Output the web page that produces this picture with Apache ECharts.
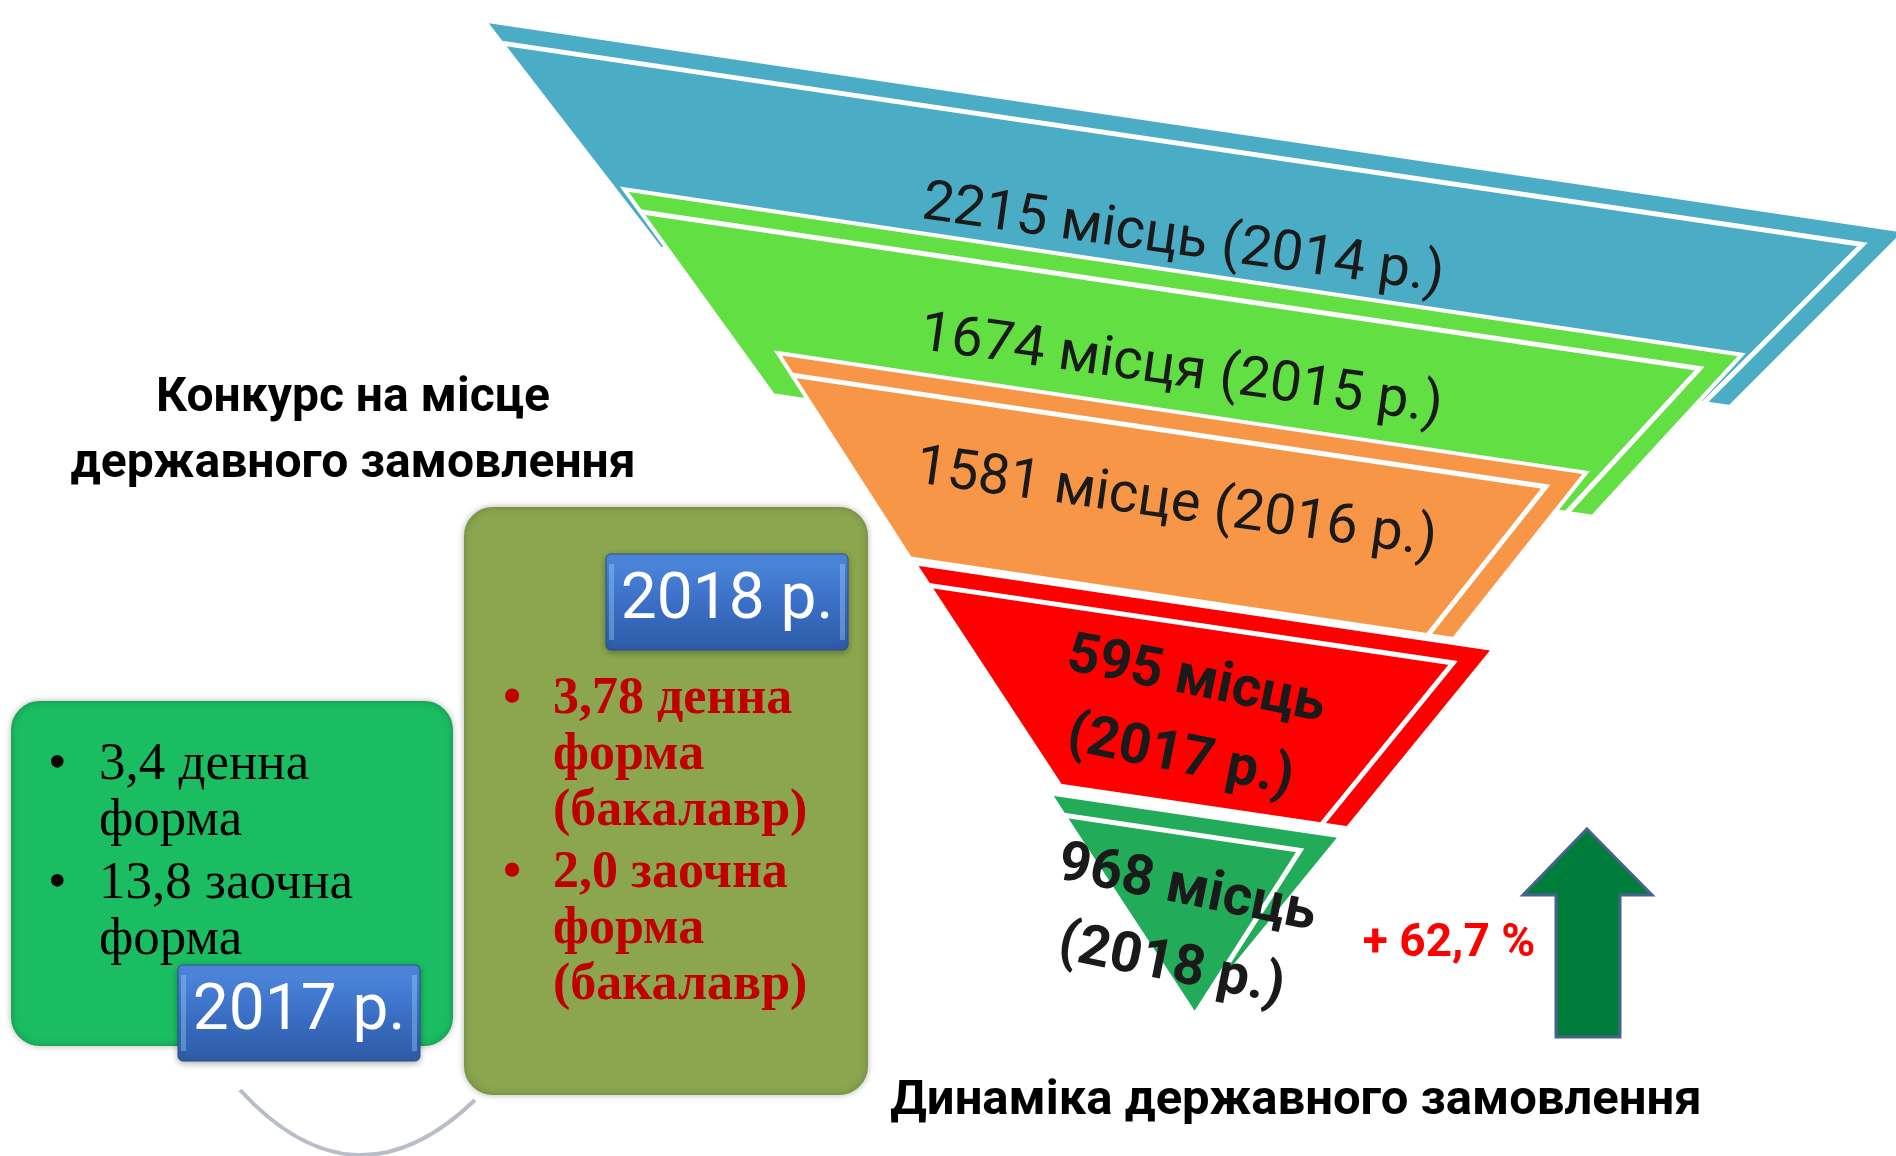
<!DOCTYPE html>
<html>
<head>
<meta charset="utf-8">
<title>Динаміка державного замовлення</title>
<script src="https://cdn.jsdelivr.net/npm/echarts@6/dist/echarts.min.js"></script>
<style>
  html, body { margin: 0; padding: 0; background: #fff; }
  #chart { width: 1896px; height: 1156px; }
</style>
</head>
<body>
<div id="chart"></div>
<script>
// state-funded places, one funnel layer per year (top to bottom)
var years = ['2014', '2015', '2016', '2017', '2018']
var places = [2215, 1674, 1581, 595, 968]
var placeWords = ['місць', 'місця', 'місце', 'місць', 'місць']

// applicants per place
var contestYears = ['2017 р.', '2018 р.']
var formNames = ['денна', 'заочна']
var contest2017 = ['3,4', '13,8']
var contest2018 = ['3,78', '2,0']

var layerColors = ['#4bacc6', '#62df42', '#f79646', '#ff0000', '#22ab58']
// layer top / bottom, measured up from the funnel tip
var layerDepth = [[889, 687], [741, 557], [600, 414], [410, 209], [200, 0]]
var layerScale = [1.04, 1.0, 0.91, 0.98, 1.04]
var layerShift = [5, -7, -8, 14, 5]
var labelPos = [[-7, 772], [-9, 641], [-14, 507], [-2, 294], [-11, 84]]
var labelRot = [-0.14, -0.14, -0.14, -0.2, -0.2]
var SKEW = 0.148

var growth = ((places[4] / places[3] - 1) * 100).toFixed(1).replace('.', ',')

function halfWidth(d) {
  return 0.68 * d + 0.0001 * d * d
}

function renderLayer(params, api) {
  var i = api.value(0)
  var origin = api.coord([0, 0])
  function pt(x, d) {
    var p = api.coord([x, d])
    return [p[0], p[1] + SKEW * (p[0] - origin[0])]
  }
  var top = layerDepth[i][0]
  var bot = layerDepth[i][1]
  var k = layerScale[i]
  var c = layerShift[i]
  var wTop = halfWidth(top) * k
  var wBot = halfWidth(bot) * k
  function edge(d) {
    return wBot + (wTop - wBot) * (d - bot) / (top - bot)
  }
  var lip = top - 20
  var side = 26
  var rim = [pt(c - edge(lip), lip), pt(c + edge(lip) - side, lip)]
  rim.push(bot > 0 ? pt(c + wBot - side, bot) : pt(c, 0))

  var twoLine = i >= 3
  var lp = pt(labelPos[i][0], labelPos[i][1])
  var label = places[i] + ' ' + placeWords[i] + (twoLine ? '\n' : ' ') + '(' + years[i] + ' р.)'

  return {
    type: 'group',
    children: [{
      type: 'polygon',
      z2: i * 2,
      shape: {
        points: [pt(c - wTop, top), pt(c + wTop, top), pt(c + wBot, bot), pt(c - wBot, bot)]
      },
      style: { fill: layerColors[i], stroke: '#fff', lineWidth: 4 }
    }, {
      type: 'polyline',
      z2: i * 2 + 1,
      shape: { points: rim },
      style: { stroke: '#fff', lineWidth: 5, fill: null }
    }, {
      type: 'text',
      z2: 100,
      x: lp[0],
      y: lp[1],
      rotation: labelRot[i],
      style: {
        text: label,
        fontSize: 56,
        fontFamily: 'Roboto',
        fontWeight: twoLine ? 'bold' : 'normal',
        lineHeight: 78,
        fill: '#1a1a1a',
        align: 'center',
        verticalAlign: 'middle'
      }
    }]
  }
}

function textLine(str, x, y, opts) {
  return {
    type: 'text',
    x: x,
    y: y,
    z: 10,
    style: Object.assign({
      text: str,
      fontFamily: 'Liberation Serif',
      fontSize: 53,
      fill: '#000',
      align: 'left',
      verticalAlign: 'middle'
    }, opts || {})
  }
}

function yearBadge(str, x, y) {
  return {
    type: 'group',
    z: 10,
    children: [{
      type: 'rect',
      shape: { x: x, y: y, width: 242, height: 96, r: 5 },
      style: {
        fill: new echarts.graphic.LinearGradient(0, 0, 0, 1, [
          { offset: 0, color: '#4f8ade' },
          { offset: 0.5, color: '#3b70c6' },
          { offset: 1, color: '#2e5ba6' }
        ]),
        stroke: '#2b5190',
        lineWidth: 1,
        shadowBlur: 6,
        shadowOffsetY: 2,
        shadowColor: 'rgba(0,0,0,0.3)'
      }
    }, {
      type: 'rect',
      shape: { x: x + 3, y: y + 10, width: 5, height: 76 },
      style: { fill: 'rgba(170,220,255,0.35)' }
    }, {
      type: 'rect',
      shape: { x: x + 234, y: y + 10, width: 5, height: 76 },
      style: { fill: 'rgba(170,220,255,0.35)' }
    }, {
      type: 'text',
      x: x + 121,
      y: y + 48,
      style: {
        text: str,
        fontFamily: 'Roboto',
        fontSize: 64,
        fill: '#fff',
        align: 'center',
        verticalAlign: 'middle'
      }
    }]
  }
}

var graphics = []

// curved arrow from 2017 to 2018
graphics.push({
  type: 'bezierCurve',
  shape: { x1: 240, y1: 1090, x2: 475, y2: 1100, cpx1: 355, cpy1: 1215 },
  style: { stroke: '#b9bdc7', lineWidth: 4, fill: null }
})

// 2017 box
graphics.push({
  type: 'rect',
  shape: { x: 12, y: 702, width: 440, height: 343, r: 28 },
  style: {
    fill: '#1bbd63', stroke: '#17a858', lineWidth: 2,
    shadowBlur: 6, shadowColor: 'rgba(0,0,0,0.25)'
  }
})
// 2018 box
graphics.push({
  type: 'rect',
  shape: { x: 465, y: 508, width: 402, height: 586, r: 28 },
  style: {
    fill: '#8ba64f', stroke: '#7c9746', lineWidth: 2,
    shadowBlur: 6, shadowColor: 'rgba(0,0,0,0.25)'
  }
})

var rows2017 = [765, 884]
contest2017.forEach(function (v, i) {
  graphics.push(textLine('•', 48, rows2017[i]))
  graphics.push(textLine(v + ' ' + formNames[i], 99, rows2017[i]))
  graphics.push(textLine('форма', 99, rows2017[i] + 56))
})

var rows2018 = [700, 874]
var red = { fill: '#c00000', fontWeight: 'bold', fontSize: 52 }
contest2018.forEach(function (v, i) {
  graphics.push(textLine('•', 503, rows2018[i], red))
  graphics.push(textLine(v + ' ' + formNames[i], 553, rows2018[i], red))
  graphics.push(textLine('форма', 553, rows2018[i] + 56, red))
  graphics.push(textLine('(бакалавр)', 553, rows2018[i] + 112, red))
})

graphics.push(yearBadge(contestYears[0], 178, 965))
graphics.push(yearBadge(contestYears[1], 606, 554))

// headings
graphics.push({
  type: 'text', x: 353, y: 432,
  style: {
    text: 'Конкурс на місце\nдержавного замовлення',
    fontFamily: 'Roboto', fontWeight: 'bold', fontSize: 48, lineHeight: 66,
    fill: '#000', align: 'center', verticalAlign: 'middle'
  }
})
graphics.push({
  type: 'text', x: 1296, y: 1102,
  style: {
    text: 'Динаміка державного замовлення',
    fontFamily: 'Roboto', fontWeight: 'bold', fontSize: 49,
    fill: '#000', align: 'center', verticalAlign: 'middle'
  }
})

// growth 2017 -> 2018
graphics.push({
  type: 'text', x: 1449, y: 944,
  style: {
    text: '+ ' + growth + ' %',
    fontFamily: 'Roboto', fontWeight: 'bold', fontSize: 46,
    fill: '#ff0000', align: 'center', verticalAlign: 'middle'
  }
})
graphics.push({
  type: 'polygon',
  shape: {
    points: [[1587, 829], [1652, 895], [1620, 895], [1620, 1037], [1556, 1037], [1556, 895], [1523, 895]]
  },
  style: { fill: '#007d3a', stroke: '#46628e', lineWidth: 3 }
})

var chart = echarts.init(document.getElementById('chart'))
chart.setOption({
  backgroundColor: '#fff',
  animation: false,
  grid: { left: 0, right: 0, top: 0, bottom: 0 },
  xAxis: { type: 'value', min: -1190, max: 706, show: false },
  yAxis: { type: 'value', min: -142, max: 1014, show: false },
  series: [{
    type: 'custom',
    renderItem: renderLayer,
    data: places.map(function (v, i) { return [i, v] }),
    encode: { x: 0, y: 1 }
  }],
  graphic: graphics
})
</script>
</body>
</html>
